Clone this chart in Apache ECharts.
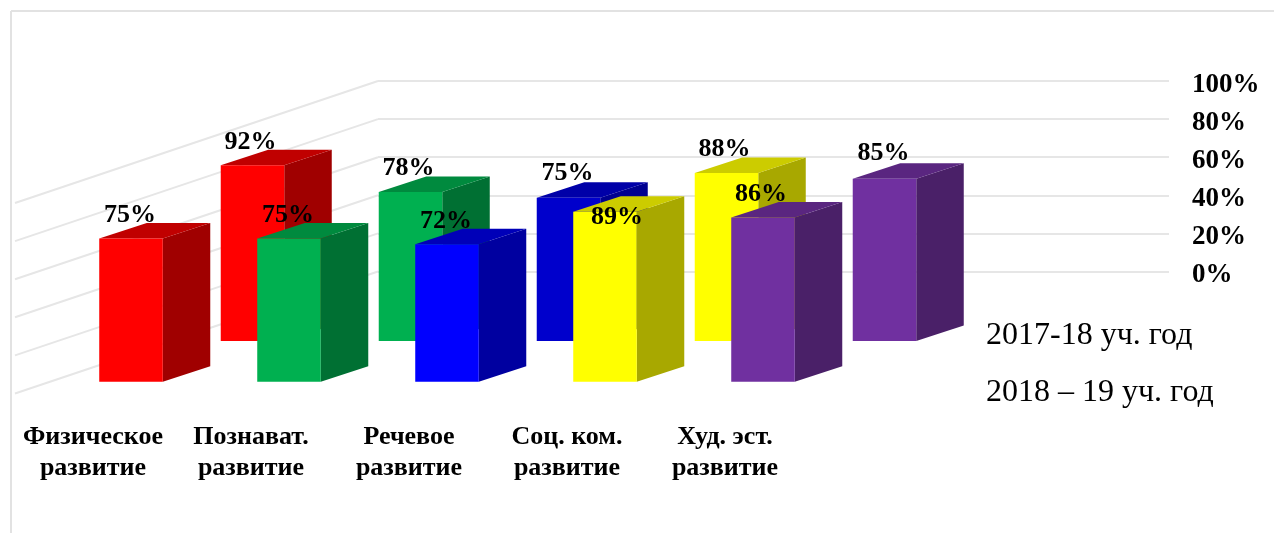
<!DOCTYPE html>
<html><head><meta charset="utf-8">
<style>html,body{margin:0;padding:0;background:#fff}#c{width:1274px;height:533px}</style>
<script src="https://cdn.jsdelivr.net/npm/echarts@6/dist/echarts.min.js"></script>
</head><body><div id="c"></div>
<script>
var categories = ['Физическое\nразвитие','Познават.\nразвитие','Речевое\nразвитие','Соц. ком.\nразвитие','Худ. эст.\nразвитие'];
var seriesBackName = '2017-18 уч. год';
var seriesFrontName = '2018 – 19 уч. год';
var valuesBack = [92,78,75,88,85];
var valuesFront = [75,75,72,89,86];
var wallTicks = [0,20,40,60,80,100];
var facesFront = ['#ff0000','#00b050','#0000ff','#ffff00','#7030a0'];
var sidesFront = ['#a00000','#007033','#0000a0','#a8a800','#4a2068'];
var topsFront  = ['#c00000','#008a3e','#0000b8','#cccc00','#5a2680'];
var facesBack  = ['#ff0000','#00b050','#0000cc','#ffff00','#7030a0'];
var sidesBack  = ['#a00000','#007033','#000090','#a8a800','#4a2068'];
var topsBack   = ['#c00000','#008a3e','#0000a8','#cccc00','#5a2680'];
var labelShiftFront = [[-1,-23],[-1,-23],[-1,-23],[12,6],[-2,-23]];
var labelShiftBack  = [[-2,-23],[-2,-24],[-1,-24],[-2,-24],[-1,-25]];

var DX = 47.5, DY = -15.5, serif = '"Liberation Serif","Times New Roman",serif';

function bars(faces, sides, tops, shifts){
  return function(params, api){
    var i = params.dataIndex, v = api.value(1);
    var t = api.coord([i, v]), b = api.coord([i, 0]);
    var w = api.size([1,0])[0]*0.402, l = t[0]-w/2, r = t[0]+w/2;
    return {type:'group', children:[
      {type:'polygon', shape:{points:[[r,t[1]],[r+DX,t[1]+DY],[r+DX,b[1]+DY],[r,b[1]]]}, style:{fill:sides[i]}},
      {type:'polygon', shape:{points:[[l,t[1]],[l+DX,t[1]+DY],[r+DX,t[1]+DY],[r,t[1]]]}, style:{fill:tops[i]}},
      {type:'rect', shape:{x:l,y:t[1],width:w,height:b[1]-t[1]}, style:{fill:faces[i]}},
      {type:'text', z2:50, style:{text:v+'%', x:t[0]+shifts[i][0], y:t[1]+shifts[i][1], align:'center', verticalAlign:'middle',
        font:'bold 26px '+serif, fill:'#000'}}
    ]};
  };
}
function wallRun(params, api){
  var p = api.coord([0, api.value(0)]);
  return {type:'line', shape:{x1:p[0]-363,y1:p[1]+122,x2:p[0],y2:p[1]}, style:{stroke:'#e6e6e6',lineWidth:2}};
}
var hidden = {show:false};
var chart = echarts.init(document.getElementById('c'), null, {renderer:'canvas'});
chart.setOption({
  animation:false,
  backgroundColor:'#fff',
  legend:{
    orient:'vertical', left:976, top:315, itemWidth:0, itemHeight:32, itemGap:25, selectedMode:false,
    textStyle:{fontFamily:serif,fontSize:32,color:'#000'},
    data:[{name:seriesBackName,icon:'none'},{name:seriesFrontName,icon:'none'}]
  },
  graphic:[
    {type:'line',silent:true,shape:{x1:11,y1:11,x2:1274,y2:11},style:{stroke:'#e2e2e2',lineWidth:2}},
    {type:'line',silent:true,shape:{x1:11,y1:11,x2:11,y2:533},style:{stroke:'#e2e2e2',lineWidth:2}}
  ],
  grid:[
    {left:52, width:790, top:190.7, height:191},
    {left:173.5, width:790, top:150, height:191},
    {left:378, width:791, top:81, height:190.5},
    {left:378, width:791, top:85, height:190.5}
  ],
  xAxis:[
    {gridIndex:0,type:'category',data:categories,axisLine:hidden,axisTick:hidden,
     axisLabel:{margin:40,lineHeight:31,fontFamily:serif,fontWeight:'bold',fontSize:26,color:'#000',padding:[0,76,0,0],interval:0}},
    {gridIndex:1,type:'category',data:categories,show:false},
    {gridIndex:2,type:'value',min:0,max:1,show:false},
    {gridIndex:3,type:'value',min:0,max:1,show:false}
  ],
  yAxis:[
    {gridIndex:0,type:'value',min:0,max:100,show:false},
    {gridIndex:1,type:'value',min:0,max:100,show:false},
    {gridIndex:2,type:'value',min:0,max:100,interval:20,position:'right',axisLine:hidden,axisTick:hidden,axisLabel:hidden,
     splitLine:{show:true,lineStyle:{color:'#e6e6e6',width:2}}},
    {gridIndex:3,type:'value',min:0,max:100,interval:20,position:'right',axisLine:hidden,axisTick:hidden,splitLine:hidden,
     axisLabel:{margin:23,formatter:'{value}%',fontFamily:serif,fontWeight:'bold',fontSize:27,color:'#000'}}
  ],
  series:[
    {type:'custom',name:'wall',silent:true,xAxisIndex:2,yAxisIndex:2,data:wallTicks.map(function(v){return [v];}),
     encode:{y:0},renderItem:wallRun,z:1},
    {type:'custom',name:seriesBackName,silent:true,xAxisIndex:1,yAxisIndex:1,z:2,
     data:valuesBack.map(function(v,i){return [i,v];}),encode:{x:0,y:1},renderItem:bars(facesBack,sidesBack,topsBack,labelShiftBack)},
    {type:'custom',name:seriesFrontName,silent:true,xAxisIndex:0,yAxisIndex:0,z:3,
     data:valuesFront.map(function(v,i){return [i,v];}),encode:{x:0,y:1},renderItem:bars(facesFront,sidesFront,topsFront,labelShiftFront)}
  ]
});
</script></body></html>
